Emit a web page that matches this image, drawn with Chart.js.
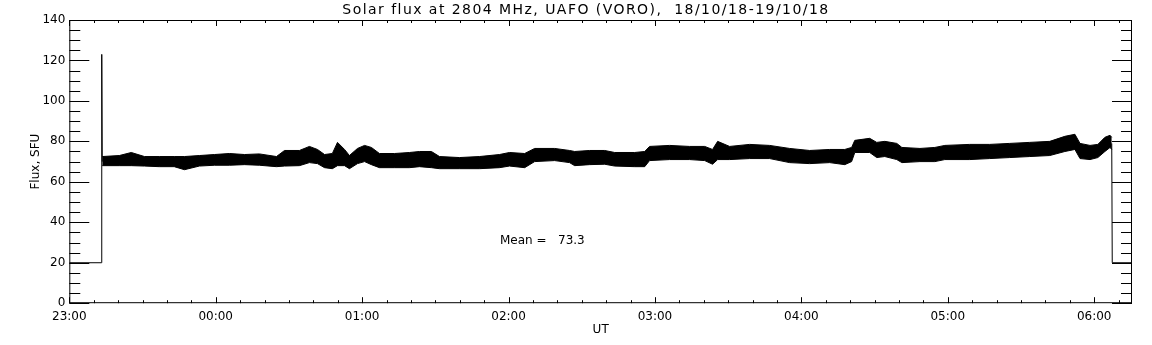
<!DOCTYPE html>
<html>
<head>
<meta charset="utf-8">
<script src="https://cdn.jsdelivr.net/npm/chart.js@4.4.0/dist/chart.umd.min.js"></script>
<style>
  html, body { margin: 0; padding: 0; background: #fff; }
  #wrap { width: 1152px; height: 345px; }
</style>
</head>
<body>
<div id="wrap"><canvas id="chartFlux"></canvas></div>
<script>
// ===== DATA (time = minutes after 23:00 UT, flux in SFU) =====
const times = [13.5, 20.5, 25.4, 30.8, 36.9, 43, 47.2, 53.3, 59.5, 65.6, 71.8, 77.9, 84.9, 88.2, 94.3, 98.4,
  101.7, 104.6, 107.8, 109.9, 112.8, 114.8, 118.1, 121, 123.8, 127.1, 133.3, 139.4, 143.5, 148.4, 151.7,
  159.9, 168.1, 176.3, 180.4, 186.6, 190.7, 198.9, 205, 207.1, 213.2, 219.4, 223.5, 231.7, 235.8, 237.8,
  246, 254.2, 260.4, 263.6, 265.7, 270.6, 278.8, 287, 295.2, 303.4, 311.6, 317.8, 320.6, 321.9, 328,
  330.9, 334.2, 339.1, 341.2, 348.6, 354.7, 358.8, 369, 377.2, 385.4, 393.6, 401.8, 408, 412.1, 414.2,
  418.3, 421.5, 424.4, 426.5, 427.2];
const fluxHigh = [72.5, 73, 74.5, 72.5, 72.5, 72.5, 72.5, 73, 73.5, 74, 73.5, 73.8, 72.5, 75.5, 75.5, 77.5,
  76, 73.5, 74, 79.5, 76, 73, 76.5, 78, 77, 74, 74, 74.5, 75, 75, 72.5,
  72, 72.5, 73.5, 74.5, 74, 76.5, 76.5, 75.5, 75, 75.5, 75.5, 74.5, 74.5, 75, 77.5,
  78, 77.5, 77.5, 76, 80, 77.5, 78.5, 78, 76.5, 75.5, 76, 76, 77, 80.5, 81.5,
  79.5, 80, 79, 77, 76.5, 77, 78, 78.5, 78.5, 79, 79.5, 80, 82.5, 83.5, 79,
  78, 78.5, 82, 83, 82];
const fluxLow = [68, 68, 68, 67.8, 67.5, 67.5, 66, 67.8, 68.2, 68.2, 68.5, 68.2, 67.5, 67.8, 68, 69.5,
  69, 67, 66.5, 68, 68, 66.5, 69, 70, 68.5, 67, 67, 67, 67.5, 67, 66.5,
  66.5, 66.5, 67, 67.8, 67, 70, 70.5, 69.5, 68, 68.5, 68.7, 67.8, 67.5, 67.5, 70.5,
  71, 71, 70.5, 68.7, 71, 71, 71.5, 71.5, 69.5, 69, 69.5, 68.5, 70, 74.5, 74.5,
  72, 72.5, 71, 69.5, 70, 70, 71, 71, 71.5, 72, 72.5, 73, 75, 76, 71.5,
  71, 72, 75, 77, 76];
// start of record: baseline, spike, then signal
const startTimes = [0, 13.2, 13.3, 13.5];
const startFlux = [20, 20, 123, 70];
// end of record: drop back to baseline
const endTimes = [427.2, 427.4, 435.5];
const endFlux = [79, 20, 20];

const hourLabels = ["23:00", "00:00", "01:00", "02:00", "03:00", "04:00", "05:00", "06:00"];
const yMax = 140;
const xMax = 435.5;
const meanFlux = 73.3;
const titleText = "Solar flux at 2804 MHz, UAFO (VORO),  18/10/18-19/10/18";

const pts = (xs, ys) => xs.map((t, i) => ({ x: t, y: ys[i] }));

// ===== IDL STYLE FRAME, TICKS, TITLE AND MEAN LABEL =====
const idlFrame = {
  id: "idlFrame",
  afterDatasetsDraw(chart) {
    const { ctx, chartArea: a, scales: { x, y } } = chart;
    ctx.save();
    ctx.strokeStyle = "#000";
    ctx.lineWidth = 1;
    ctx.strokeRect(a.left + 0.5, a.top + 0.5, a.right - a.left - 1, a.bottom - a.top - 1);
    ctx.beginPath();
    for (let v = 0; v <= yMax; v += 5) {
      const py = Math.round(y.getPixelForValue(v)) + 0.5;
      const len = v % 20 === 0 ? 20 : 11;
      ctx.moveTo(a.left, py); ctx.lineTo(a.left + len, py);
      ctx.moveTo(a.right, py); ctx.lineTo(a.right - len, py);
    }
    for (let m = 0; m <= xMax; m += 10) {
      const px = Math.round(x.getPixelForValue(m)) + 0.5;
      const len = m % 60 === 0 ? 6 : 3;
      ctx.moveTo(px, a.bottom); ctx.lineTo(px, a.bottom - len);
      ctx.moveTo(px, a.top); ctx.lineTo(px, a.top + len);
    }
    ctx.stroke();
    ctx.fillStyle = "#000";
    ctx.font = "12px 'DejaVu Sans'";
    ctx.textBaseline = "middle";
    ctx.fillText("Mean =   " + meanFlux.toFixed(1), x.getPixelForValue(176.5), y.getPixelForValue(31));
    // title, wide spacing like the IDL vector font
    ctx.font = "14px 'DejaVu Sans'";
    ctx.letterSpacing = "1.45px";
    ctx.textAlign = "center";
    ctx.fillText(titleText, 586, 10);
    ctx.restore();
  }
};

new Chart(document.getElementById("chartFlux"), {
  type: "line",
  data: {
    datasets: [
      { data: pts(times, fluxHigh), borderColor: "#000", backgroundColor: "#000", borderWidth: 1, fill: "+1" },
      { data: pts(times, fluxLow), borderColor: "#000", borderWidth: 1, fill: false },
      { data: pts(startTimes, startFlux), borderColor: "#000", borderWidth: 1, fill: false },
      { data: pts(endTimes, endFlux), borderColor: "#000", borderWidth: 1, fill: false }
    ]
  },
  options: {
    responsive: true,
    maintainAspectRatio: false,
    animation: false,
    layout: { padding: { left: 27, right: 20, top: 20, bottom: 4 } },
    elements: { point: { radius: 0 }, line: { tension: 0 } },
    plugins: {
      legend: { display: false },
      tooltip: { enabled: false },
      title: { display: false }
    },
    scales: {
      x: {
        type: "linear",
        min: 0,
        max: xMax,
        afterBuildTicks: s => { s.ticks = hourLabels.map((_, i) => ({ value: i * 60 })); },
        grid: { display: false, drawTicks: false, tickLength: 0 },
        border: { display: false },
        ticks: {
          color: "#000",
          font: { family: "DejaVu Sans", size: 12 },
          padding: 6,
          maxRotation: 0,
          callback: v => hourLabels[Math.round(v / 60)]
        },
        title: { display: true, text: "UT", color: "#000", font: { family: "DejaVu Sans", size: 12 }, padding: { top: -7, bottom: 4 } }
      },
      y: {
        min: 0,
        max: yMax,
        grid: { display: false, drawTicks: false, tickLength: 0 },
        border: { display: false },
        ticks: { color: "#000", stepSize: 20, font: { family: "DejaVu Sans", size: 12 }, padding: 4 },
        title: { display: true, text: "Flux, SFU", color: "#000", font: { family: "DejaVu Sans", size: 12 }, padding: { top: 2, bottom: -5 } }
      }
    }
  },
  plugins: [idlFrame]
});
</script>
</body>
</html>
